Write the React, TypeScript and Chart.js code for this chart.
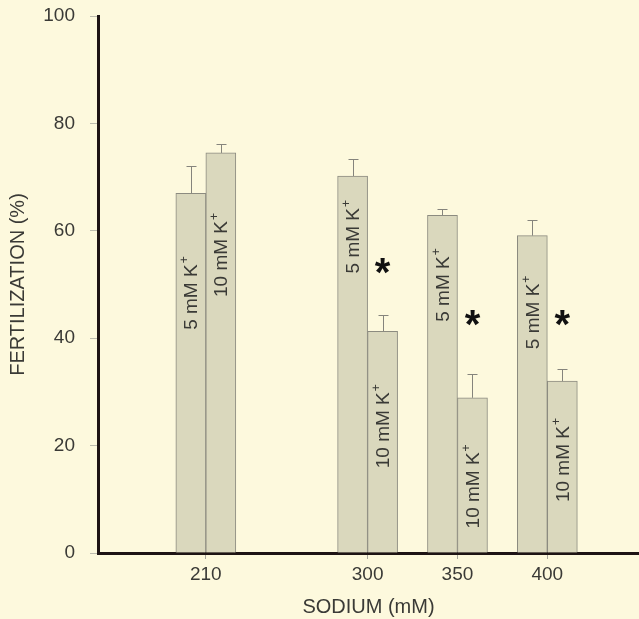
import { useEffect, useRef } from 'react';
import { Chart, registerables } from 'chart.js';

Chart.register(...registerables);

// ---- data ----
const sodium = [210, 300, 350, 400];
const k5Mean = [67, 70.2, 62.9, 59.1];
const k5Err = [5, 3.1, 1.2, 3];
const k10Mean = [74.5, 41.3, 28.9, 32];
const k10Err = [1.6, 3.1, 4.4, 2.2];
const seriesLabels = ['5 mM K', '10 mM K'];
const labelAt5 = [48.4, 58.9, 49.9, 44.8];
const labelAt10 = [55.5, 23.6, 12.4, 17.3];
const asteriskAt: (number | null)[] = [null, 53.4, 43.8, 43.8];
const yTickValues = [0, 20, 40, 60, 80, 100];

const FONT = '"Liberation Sans", Arial, Helvetica, sans-serif';
const TEXT = '#3a3a36';
const BG = '#fdf9dd';
const BAR = '#dad8bd';
const BAR_BORDER = '#8c8b80';
const AXIS = '#1e1414';

function drawRotLabel(ctx: CanvasRenderingContext2D, x: number, y: number, main: string, sup: string) {
  ctx.save();
  ctx.translate(x, y);
  ctx.rotate(-Math.PI / 2);
  const mainFont = `19px ${FONT}`;
  const supFont = `12px ${FONT}`;
  ctx.font = mainFont;
  const w1 = ctx.measureText(main).width;
  ctx.font = supFont;
  const w2 = ctx.measureText(sup).width;
  const total = w1 + w2 + 1;
  ctx.fillStyle = TEXT;
  ctx.textAlign = 'left';
  ctx.textBaseline = 'middle';
  ctx.font = mainFont;
  ctx.fillText(main, -total / 2, 1);
  ctx.font = supFont;
  ctx.fillText(sup, -total / 2 + w1 + 1, -6);
  ctx.restore();
}

const overlayPlugin = {
  id: 'overlay',
  afterDatasetsDraw(chart: any) {
    const ctx: CanvasRenderingContext2D = chart.ctx;
    const yScale = chart.scales.y;
    const means = [k5Mean, k10Mean];
    const errs = [k5Err, k10Err];
    const anchors = [labelAt5, labelAt10];
    for (let d = 0; d < 2; d++) {
      const meta = chart.getDatasetMeta(d);
      meta.data.forEach((bar: any, i: number) => {
        const top = yScale.getPixelForValue(means[d][i]);
        const eTop = yScale.getPixelForValue(means[d][i] + errs[d][i]);
        ctx.save();
        ctx.strokeStyle = '#85847c';
        ctx.lineWidth = 1;
        ctx.beginPath();
        ctx.moveTo(Math.round(bar.x) + 0.5, top);
        ctx.lineTo(Math.round(bar.x) + 0.5, Math.round(eTop) + 0.5);
        ctx.moveTo(Math.round(bar.x) - 4.5, Math.round(eTop) + 0.5);
        ctx.lineTo(Math.round(bar.x) + 5.5, Math.round(eTop) + 0.5);
        ctx.stroke();
        ctx.restore();
        drawRotLabel(ctx, bar.x, yScale.getPixelForValue(anchors[d][i]), seriesLabels[d], '+');
      });
    }
    const meta10 = chart.getDatasetMeta(1);
    asteriskAt.forEach((v, i) => {
      if (v === null) return;
      const bar: any = meta10.data[i];
      const cy = yScale.getPixelForValue(v);
      ctx.save();
      ctx.font = `bold 40px ${FONT}`;
      ctx.fillStyle = '#111';
      ctx.textAlign = 'center';
      ctx.textBaseline = 'alphabetic';
      const m = ctx.measureText('*');
      const asc = m.actualBoundingBoxAscent;
      const desc = m.actualBoundingBoxDescent;
      ctx.fillText('*', bar.x, cy - (desc - asc) / 2);
      ctx.restore();
    });
  },
};

export default function App() {
  const ref = useRef<HTMLCanvasElement | null>(null);
  useEffect(() => {
    if (!ref.current) return;
    const chart = new Chart(ref.current, {
      type: 'bar',
      data: {
        datasets: [
          {
            label: '5 mM K+',
            data: sodium.map((x, i) => ({ x, y: k5Mean[i] })),
            backgroundColor: BAR,
            borderColor: BAR_BORDER,
            borderWidth: 1,
            borderSkipped: 'bottom',
            barThickness: 30,
          },
          {
            label: '10 mM K+',
            data: sodium.map((x, i) => ({ x, y: k10Mean[i] })),
            backgroundColor: BAR,
            borderColor: BAR_BORDER,
            borderWidth: 1,
            borderSkipped: 'bottom',
            barThickness: 30,
          },
        ],
      },
      options: {
        responsive: false,
        animation: false,
        layout: { padding: { top: 16, left: 0, right: 0, bottom: 0 } },
        plugins: { legend: { display: false }, tooltip: { enabled: false } },
        scales: {
          x: {
            type: 'linear',
            min: 150,
            max: 451,
            offset: false,
            z: 1,
            afterBuildTicks: (s: any) => {
              s.ticks = sodium.map((v) => ({ value: v }));
            },
            ticks: {
              color: TEXT,
              font: { family: FONT, size: 19 },
              padding: 4,
              autoSkip: false,
              maxRotation: 0,
            },
            grid: { drawOnChartArea: false, offset: false, tickLength: 6, color: '#a8a79c' },
            border: { color: AXIS, width: 3 },
            title: {
              display: true,
              text: 'SODIUM (mM)',
              color: TEXT,
              font: { family: FONT, size: 20 },
              padding: { top: 0, bottom: 0 },
            },
            afterFit: (s: any) => {
              s.height = 66;
              s.paddingLeft = 0;
              s.paddingRight = 0;
            },
          },
          y: {
            min: 0,
            max: 100,
            z: 1,
            afterBuildTicks: (s: any) => {
              s.ticks = yTickValues.map((v) => ({ value: v }));
            },
            ticks: {
              color: TEXT,
              font: { family: FONT, size: 19 },
              padding: 15,
            },
            grid: { drawOnChartArea: false, tickLength: 8, color: '#bdbcae' },
            border: { color: AXIS, width: 3 },
            title: {
              display: true,
              text: 'FERTILIZATION (%)',
              color: TEXT,
              font: { family: FONT, size: 20 },
              padding: { top: 6, bottom: 0 },
            },
            afterFit: (s: any) => {
              s.width = 98;
              s.paddingTop = 0;
              s.paddingBottom = 0;
            },
          },
        },
      },
      plugins: [overlayPlugin],
    } as any);
    return () => chart.destroy();
  }, []);
  return (
    <div style={{ position: 'fixed', left: 0, top: 0, width: 639, height: 619, background: BG }}>
      <canvas ref={ref} width={639} height={619} style={{ display: 'block' }} />
    </div>
  );
}
